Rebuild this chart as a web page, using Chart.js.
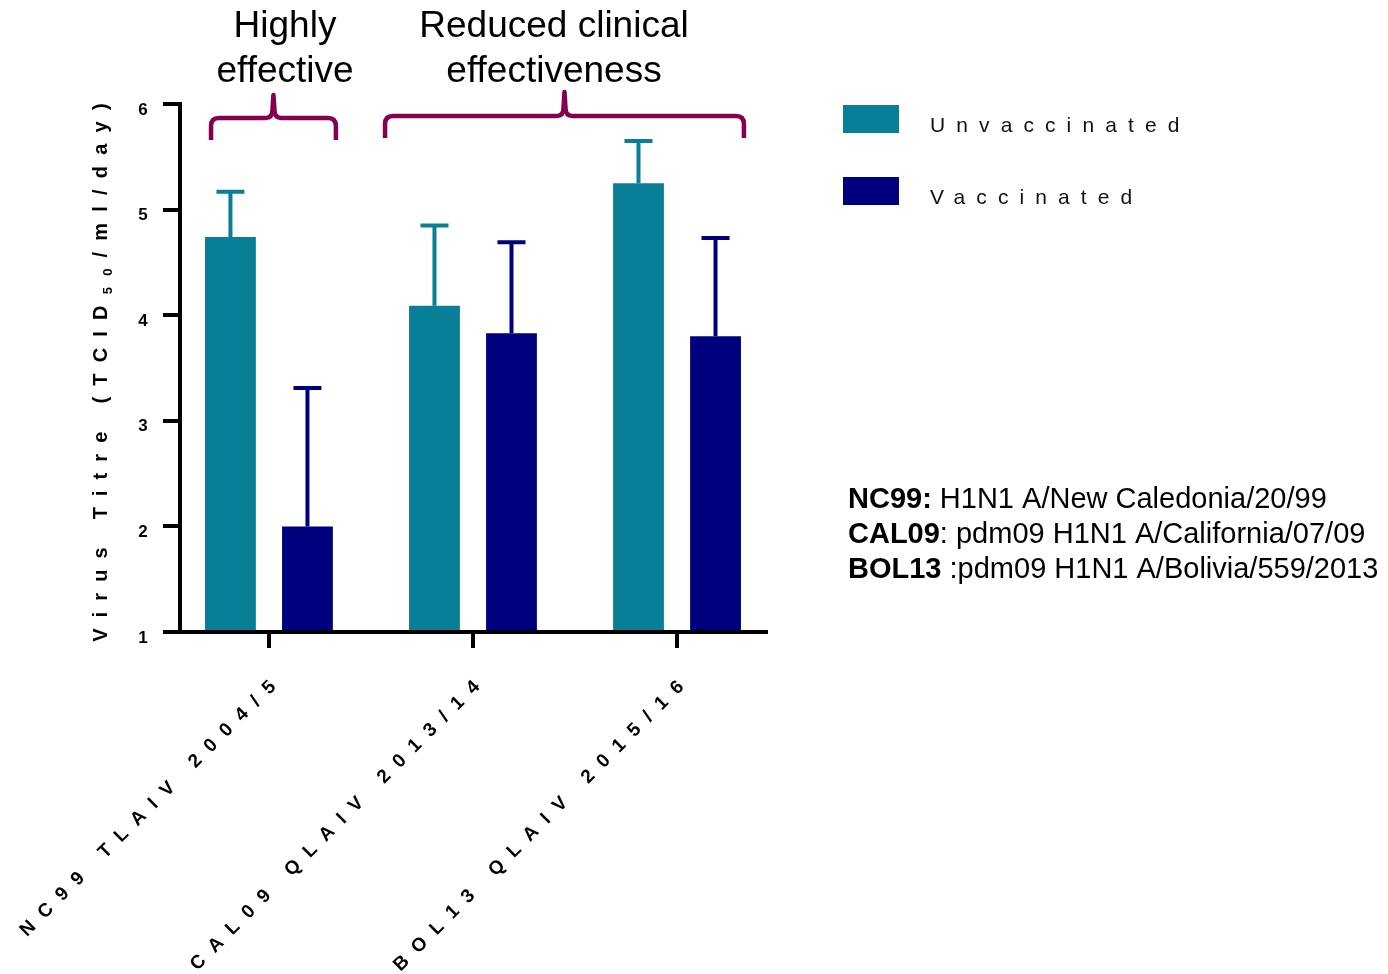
<!DOCTYPE html>
<html>
<head>
<meta charset="utf-8">
<script src="https://cdn.jsdelivr.net/npm/chart.js@4.4.1/dist/chart.umd.min.js"></script>
<style>
  html, body { margin: 0; padding: 0; background: #fff; }
  canvas { display: block; }
</style>
</head>
<body>
<canvas id="titreChart" width="1388" height="974"></canvas>
<script>
// data
const categories = ['NC99 TLAIV 2004/5', 'CAL09 QLAIV 2013/14', 'BOL13 QLAIV 2015/16'];
const unvaccinated = [4.74, 4.09, 5.25];
const unvaccinatedErr = [0.43, 0.76, 0.40];
const vaccinated = [2.00, 3.83, 3.80];
const vaccinatedErr = [1.31, 0.86, 0.93];
const yTicks = [1, 2, 3, 4, 5, 6];

const TEAL = '#087f96';
const NAVY = '#00007f';
const BRACE = '#860052';
const FONT = "'Liberation Sans', Arial, sans-serif";

const toPoints = arr => arr.map((v, i) => ({ x: i, y: v }));

// upward-only error bars in the bar colour
const errorBars = {
    id: 'errorBars',
    afterDatasetsDraw(chart) {
        const ctx = chart.ctx;
        const y = chart.scales.y;
        chart.data.datasets.forEach((ds, i) => {
            const meta = chart.getDatasetMeta(i);
            meta.data.forEach((bar, j) => {
                const v = ds.data[j].y;
                const top = y.getPixelForValue(v);
                const cap = y.getPixelForValue(v + ds.errors[j]);
                ctx.save();
                ctx.strokeStyle = ds.backgroundColor;
                ctx.lineWidth = 4;
                ctx.beginPath();
                ctx.moveTo(bar.x, top);
                ctx.lineTo(bar.x, cap);
                ctx.moveTo(bar.x - 14, cap);
                ctx.lineTo(bar.x + 14, cap);
                ctx.stroke();
                ctx.restore();
            });
        });
    }
};

function spacedText(ctx, text, x, y, spacing) {
    ctx.letterSpacing = spacing + 'px';
    ctx.fillText(text, x, y);
    ctx.letterSpacing = '0px';
}

function drawBrace(ctx, x1, x2, yLine, yEnd, yPeak) {
    const mid = (x1 + x2) / 2;
    ctx.beginPath();
    ctx.moveTo(x1, yEnd);
    ctx.lineTo(x1, yLine + 8);
    ctx.quadraticCurveTo(x1, yLine, x1 + 8, yLine);
    ctx.lineTo(mid - 8, yLine);
    ctx.quadraticCurveTo(mid - 1, yLine, mid - 1, yLine - 8);
    ctx.lineTo(mid, yPeak);
    ctx.lineTo(mid + 1, yLine - 8);
    ctx.quadraticCurveTo(mid + 1, yLine, mid + 8, yLine);
    ctx.lineTo(x2 - 8, yLine);
    ctx.quadraticCurveTo(x2, yLine, x2, yLine + 8);
    ctx.lineTo(x2, yEnd);
    ctx.stroke();
}

// axis title, tick labels, axis line, legend, braces and notes
const decorations = {
    id: 'decorations',
    afterDraw(chart) {
        const ctx = chart.ctx;
        const area = chart.chartArea;
        const xs = chart.scales.x;
        const ys = chart.scales.y;
        ctx.save();
        ctx.fillStyle = '#000';

        // x axis line, starting under the bottom y tick
        ctx.strokeStyle = '#000';
        ctx.lineWidth = 4;
        ctx.beginPath();
        ctx.moveTo(area.left - 17, area.bottom);
        ctx.lineTo(area.right, area.bottom);
        ctx.stroke();

        // y tick labels sit a little below their ticks in the original
        ctx.font = 'bold 17px ' + FONT;
        ctx.textAlign = 'center';
        ctx.textBaseline = 'middle';
        yTicks.forEach(v => {
            ctx.fillText(String(v), 143, ys.getPixelForValue(v) + 6);
        });

        // rotated x labels
        ctx.font = 'bold 19px ' + FONT;
        ctx.textAlign = 'right';
        ctx.textBaseline = 'middle';
        categories.forEach((c, i) => {
            const px = xs.getPixelForValue(i);
            ctx.save();
            ctx.translate(px + 12, area.bottom + 44);
            ctx.rotate(-Math.PI / 4);
            spacedText(ctx, c, 0, 0, 11.3);
            ctx.restore();
        });

        // y axis title with subscript
        ctx.save();
        ctx.translate(107, (area.top + area.bottom) / 2 - 1);
        ctx.rotate(-Math.PI / 2);
        ctx.textAlign = 'left';
        ctx.textBaseline = 'alphabetic';
        const parts = [
            { t: 'Virus Titre (TCID', f: 'bold 20px ', dy: 0 },
            { t: '50', f: 'bold 13px ', dy: 5 },
            { t: '/ml/day)', f: 'bold 20px ', dy: 0 }
        ];
        const sp = 11.2;
        let total = 0;
        parts.forEach(p => {
            ctx.font = p.f + FONT;
            ctx.letterSpacing = sp + 'px';
            p.w = ctx.measureText(p.t).width;
            total += p.w;
        });
        let cx = -total / 2;
        parts.forEach(p => {
            ctx.font = p.f + FONT;
            spacedText(ctx, p.t, cx, p.dy, sp);
            cx += p.w;
        });
        ctx.restore();

        // legend
        const legend = [['Unvaccinated', TEAL, 105], ['Vaccinated', NAVY, 177]];
        legend.forEach(([label, col, top]) => {
            ctx.fillStyle = col;
            ctx.fillRect(843, top, 56, 28);
            ctx.fillStyle = '#111';
            ctx.font = '21px ' + FONT;
            ctx.textAlign = 'left';
            ctx.textBaseline = 'middle';
            spacedText(ctx, label, 930, top + 21, 11.1);
        });

        // braces and group headings
        const m0 = chart.getDatasetMeta(0).data;
        const m1 = chart.getDatasetMeta(1).data;
        const bw = m0[0].width;
        ctx.strokeStyle = BRACE;
        ctx.lineWidth = 4.5;
        ctx.lineJoin = 'round';
        drawBrace(ctx, m0[0].x - bw / 2 + 6, m1[0].x + bw / 2 + 3, 118, 140, 95);
        drawBrace(ctx, m0[1].x - bw / 2 - 24, m1[2].x + bw / 2 + 3, 116, 138, 92);

        ctx.fillStyle = '#000';
        ctx.font = '37px ' + FONT;
        ctx.textAlign = 'center';
        ctx.textBaseline = 'alphabetic';
        ctx.fillText('Highly', 285, 37);
        ctx.fillText('effective', 285, 82);
        ctx.fillText('Reduced clinical', 554, 37);
        ctx.fillText('effectiveness', 554, 82);

        // strain notes
        const notes = [
            ['NC99:', ' H1N1 A/New Caledonia/20/99'],
            ['CAL09', ': pdm09 H1N1 A/California/07/09'],
            ['BOL13', ' :pdm09 H1N1 A/Bolivia/559/2013']
        ];
        ctx.textAlign = 'left';
        notes.forEach(([b, r], i) => {
            const by = 508 + i * 35;
            ctx.font = 'bold 29px ' + FONT;
            ctx.fillText(b, 848, by);
            const w = ctx.measureText(b).width;
            ctx.font = '29px ' + FONT;
            ctx.fillText(r, 848 + w, by);
        });
        ctx.restore();
    }
};

new Chart(document.getElementById('titreChart'), {
    type: 'bar',
    data: {
        datasets: [
            { label: 'Unvaccinated', data: toPoints(unvaccinated), errors: unvaccinatedErr, backgroundColor: TEAL, base: 1 },
            { label: 'Vaccinated', data: toPoints(vaccinated), errors: vaccinatedErr, backgroundColor: NAVY, base: 1 }
        ]
    },
    options: {
        responsive: false,
        animation: false,
        devicePixelRatio: 1,
        layout: { padding: { left: 0, top: 104, right: 620, bottom: 0 } },
        datasets: { bar: { categoryPercentage: 0.755, barPercentage: 0.66 } },
        plugins: { legend: { display: false }, tooltip: { enabled: false } },
        scales: {
            x: {
                type: 'linear',
                offset: false,
                min: -0.436,
                max: 2.446,
                afterBuildTicks(scale) { scale.ticks = categories.map((c, i) => ({ value: i })); },
                ticks: { display: false },
                grid: { drawOnChartArea: false, offset: false, tickLength: 16, lineWidth: 4, color: '#000' },
                border: { display: false },
                afterFit(scale) { scale.height = 342; }
            },
            y: {
                min: yTicks[0],
                max: yTicks[yTicks.length - 1],
                afterBuildTicks(scale) { scale.ticks = yTicks.map(v => ({ value: v })); },
                ticks: { display: false },
                grid: { drawOnChartArea: false, tickLength: 17, lineWidth: 4, color: '#000' },
                border: { display: true, width: 4, color: '#000' },
                afterFit(scale) { scale.width = 180; }
            }
        }
    },
    plugins: [errorBars, decorations]
});
</script>
</body>
</html>
